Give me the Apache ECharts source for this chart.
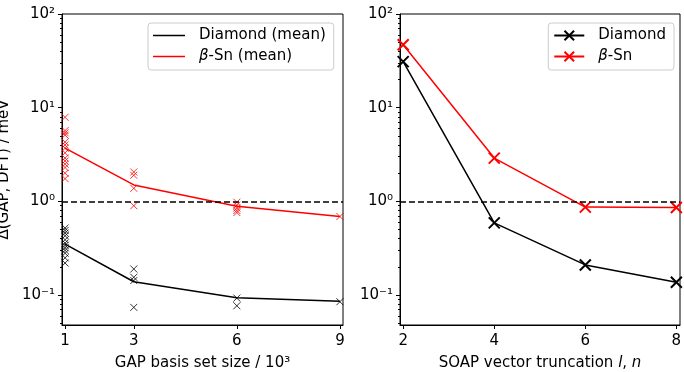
<!DOCTYPE html>
<html>
<head>
<meta charset="utf-8">
<script src="https://cdn.jsdelivr.net/npm/echarts@6/dist/echarts.min.js"></script>
<style>
  html, body { margin: 0; padding: 0; background: #fff; }
  #chart { width: 684px; height: 372px; }
</style>
</head>
<body>
<div id="chart"></div>
<script>
// left panel: GAP basis set size (x 10^3)
const gapSizes = [1, 3, 6, 9]
const diamondMean = [0.35, 0.139, 0.094, 0.086]
const snMean = [3.7, 1.5, 0.89, 0.69]
// individual runs, one array per basis set size
const diamondRuns = [
  [0.52, 0.49, 0.46, 0.43, 0.39, 0.36, 0.34, 0.32, 0.3, 0.28, 0.25, 0.22],
  [0.19, 0.155, 0.143, 0.074],
  [0.093, 0.077],
  [0.085]
]
const snRuns = [
  [7.9, 5.7, 5.4, 5.1, 4.3, 4.0, 3.7, 3.3, 2.9, 2.7, 2.5, 2.3, 2.0, 1.75],
  [2.06, 1.9, 1.38, 0.9],
  [0.98, 0.91, 0.85, 0.8, 0.76],
  [0.69]
]
// right panel: SOAP truncation
const soapCuts = [2, 4, 6, 8]
const diamondSoap = [31, 0.59, 0.21, 0.137]
const snSoap = [47, 2.9, 0.87, 0.86]

const yMajor = [0.1, 1, 10, 100]
const yMinor = [0.05, 0.06, 0.07, 0.08, 0.09, 0.2, 0.3, 0.4, 0.5, 0.6, 0.7, 0.8, 0.9,
  2, 3, 4, 5, 6, 7, 8, 9, 20, 30, 40, 50, 60, 70, 80, 90]
const yLabels = { 0.1: '10\u207B\u00B9', 1: '10\u2070', 10: '10\u00B9', 100: '10\u00B2' }

const font = 'DejaVu Sans'
const fs = 15
const cross = 'path://M0,0L10,10M10,0L0,10'

function runsToPoints(runs) {
  const pts = []
  runs.forEach(function(list, i) {
    list.forEach(function(v) {
      pts.push([gapSizes[i], v])
    })
  })
  return pts
}

function pairs(xs, ys) {
  return xs.map(function(x, i) { return [x, ys[i]] })
}

function yAxisMajor(grid, name) {
  return {
    type: 'log',
    logBase: 10,
    gridIndex: grid,
    min: 0.048,
    max: 100,
    position: 'left',
    name: name,
    nameLocation: 'middle',
    nameGap: 50,
    nameTextStyle: { fontFamily: font, fontSize: fs, color: '#000' },
    axisLine: { show: true, lineStyle: { color: '#000', width: 1 } },
    axisTick: { show: true, length: 4, lineStyle: { color: '#000' }, customValues: yMajor },
    axisLabel: {
      customValues: yMajor,
      fontFamily: font,
      fontSize: fs,
      color: '#000',
      margin: 7,
      formatter(v) {
        return yLabels[v] || yLabels[+v.toPrecision(3)] || ''
      }
    },
    splitLine: { show: false }
  }
}

function yAxisMinor(grid) {
  return {
    type: 'log',
    logBase: 10,
    gridIndex: grid,
    min: 0.048,
    max: 100,
    position: 'left',
    axisLine: { show: false },
    axisTick: { show: true, length: 2, lineStyle: { color: '#000' }, customValues: yMinor },
    axisLabel: { show: false },
    splitLine: { show: false }
  }
}

function xAxis(grid, min, max, ticks, name) {
  return {
    type: 'value',
    gridIndex: grid,
    min: min,
    max: max,
    name: name,
    nameLocation: 'middle',
    nameGap: 31,
    nameTextStyle: {
      fontFamily: font, fontSize: fs, color: '#000',
      rich: { i: { fontFamily: font, fontSize: fs, fontStyle: 'italic', color: '#000' } }
    },
    axisLine: { show: true, lineStyle: { color: '#000', width: 1 } },
    axisTick: { show: true, length: 4, lineStyle: { color: '#000' }, customValues: ticks },
    axisLabel: { customValues: ticks, fontFamily: font, fontSize: fs, color: '#000', margin: 9 },
    splitLine: { show: false }
  }
}

const dashed = {
  silent: true,
  symbol: ['none', 'none'],
  label: { show: false },
  lineStyle: { color: '#000', type: [6, 3], width: 1.5 },
  data: [{ yAxis: 1 }]
}

const legendText = {
  fontFamily: font,
  fontSize: fs,
  color: '#000',
  padding: [0, 0, 0, 9],
  rich: { i: { fontFamily: font, fontSize: fs, fontStyle: 'italic', color: '#000' } }
}

function italicBeta(name) {
  return name.replace('β', '{i|β}')
}

const chart = echarts.init(document.getElementById('chart'))
chart.setOption({
  animation: false,
  backgroundColor: '#fff',
  textStyle: { fontFamily: font },
  grid: [
    { left: 62, right: 341, top: 14, bottom: 47, show: true, borderColor: '#000', borderWidth: 1, outerBoundsMode: 'none' },
    { left: 400, right: 4, top: 14, bottom: 47, show: true, borderColor: '#000', borderWidth: 1, outerBoundsMode: 'none' }
  ],
  legend: [
    {
      data: [
        { name: 'Diamond (mean)', icon: 'rect' },
        { name: 'β-Sn (mean)', icon: 'rect' }
      ],
      orient: 'vertical',
      left: 148,
      top: 23,
      padding: [5, 8, 6, 5],
      itemGap: 6,
      itemWidth: 32,
      itemHeight: 1.5,
      backgroundColor: '#fff',
      borderColor: '#ccc',
      borderWidth: 1,
      borderRadius: 3,
      textStyle: legendText,
      formatter: italicBeta
    },
    {
      data: ['Diamond', 'β-Sn'],
      orient: 'vertical',
      right: 10,
      top: 23,
      padding: [5, 8, 6, 5],
      itemGap: 6,
      itemWidth: 30,
      itemHeight: 12,
      backgroundColor: '#fff',
      borderColor: '#ccc',
      borderWidth: 1,
      borderRadius: 3,
      textStyle: legendText,
      formatter: italicBeta
    }
  ],
  xAxis: [
    xAxis(0, 0.91, 9.09, gapSizes, 'GAP basis set size / 10\u00B3'),
    xAxis(1, 1.93, 8.08, soapCuts, 'SOAP vector truncation {i|l}, {i|n}')
  ],
  yAxis: [
    yAxisMajor(0, 'Δ(GAP, DFT) / meV'),
    yAxisMinor(0),
    yAxisMajor(1, ''),
    yAxisMinor(1)
  ],
  series: [
    {
      name: 'diamond runs',
      type: 'scatter',
      xAxisIndex: 0,
      yAxisIndex: 0,
      symbol: cross,
      symbolSize: 7,
      itemStyle: { color: 'rgba(0,0,0,0)', borderColor: '#000', borderWidth: 1 },
      data: runsToPoints(diamondRuns)
    },
    {
      name: 'sn runs',
      type: 'scatter',
      xAxisIndex: 0,
      yAxisIndex: 0,
      symbol: cross,
      symbolSize: 7,
      itemStyle: { color: 'rgba(0,0,0,0)', borderColor: '#f00', borderWidth: 1 },
      data: runsToPoints(snRuns)
    },
    {
      name: 'Diamond (mean)',
      type: 'line',
      xAxisIndex: 0,
      yAxisIndex: 0,
      symbol: 'none',
      color: '#000',
      lineStyle: { color: '#000', width: 1.5 },
      data: pairs(gapSizes, diamondMean),
      markLine: dashed
    },
    {
      name: 'β-Sn (mean)',
      type: 'line',
      xAxisIndex: 0,
      yAxisIndex: 0,
      symbol: 'none',
      color: '#f00',
      lineStyle: { color: '#f00', width: 1.5 },
      data: pairs(gapSizes, snMean)
    },
    {
      name: 'Diamond',
      type: 'line',
      xAxisIndex: 1,
      yAxisIndex: 2,
      symbol: cross,
      symbolSize: 11,
      color: '#000',
      itemStyle: { color: 'rgba(0,0,0,0)', borderColor: '#000', borderWidth: 2 },
      lineStyle: { color: '#000', width: 1.5 },
      data: pairs(soapCuts, diamondSoap),
      markLine: dashed
    },
    {
      name: 'β-Sn',
      type: 'line',
      xAxisIndex: 1,
      yAxisIndex: 2,
      symbol: cross,
      symbolSize: 11,
      color: '#f00',
      itemStyle: { color: 'rgba(0,0,0,0)', borderColor: '#f00', borderWidth: 2 },
      lineStyle: { color: '#f00', width: 1.5 },
      data: pairs(soapCuts, snSoap)
    }
  ]
})
</script>
</body>
</html>
